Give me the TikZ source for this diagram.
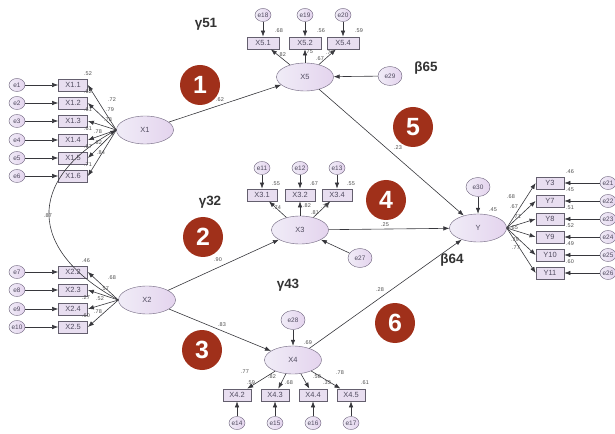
\documentclass[tikz,border=0pt]{standalone}
\usepackage{fontspec}
\setmainfont{Liberation Sans}
\usepackage{xcolor}
\usetikzlibrary{shapes.geometric, arrows.meta, positioning}

\definecolor{latleft}{RGB}{240,236,247}
\definecolor{latright}{RGB}{228,212,238}
\definecolor{latdraw}{RGB}{105,95,120}
\definecolor{boxfill}{RGB}{232,222,240}
\definecolor{boxdraw}{RGB}{100,95,110}
\definecolor{txtgray}{RGB}{80,75,95}
\definecolor{numred}{RGB}{160,48,26}
\definecolor{linegray}{RGB}{55,55,60}

\begin{document}
\begin{tikzpicture}[x=1bp, y=-1bp,
    lat/.style={ellipse, draw=latdraw, left color=latleft, right color=latright, minimum width=57bp, minimum height=28bp, inner sep=0, font=\fontsize{7.5}{8}\selectfont, text=txtgray},
    ind/.style={draw=boxdraw, fill=boxfill, minimum width=29bp, minimum height=12bp, inner sep=0, line width=0.8bp, font=\fontsize{7.5}{8}\selectfont, text=txtgray},
    err/.style={ellipse, draw=latdraw, left color=latleft, right color=latright, minimum width=16bp, minimum height=13bp, inner sep=0, font=\fontsize{6.5}{7}\selectfont, text=txtgray},
    dist/.style={err, minimum width=24bp, minimum height=19bp},
    num/.style={circle, fill=numred, minimum size=40bp, inner sep=0, text=white, font=\fontsize{25}{25}\selectfont\bfseries},
    greek/.style={font=\fontsize{13.5}{14}\selectfont\bfseries, text=black!80},
    coef/.style={font=\fontsize{5.5}{6}\selectfont, text=black!70, inner sep=0},
    arrow/.style={-{Latex[length=6bp,width=4.5bp]}, draw=linegray, line width=0.6bp}
]
    \useasboundingbox (0,0) rectangle (615,434);

    % latent variables
    \node[lat] at (145,130) (X1) {X1};
    \node[lat] at (147,300) (X2) {X2};
    \node[lat] at (305,77) (X5) {X5};
    \node[lat] at (300,230) (X3) {X3};
    \node[lat] at (293,360) (X4) {X4};
    \node[lat] at (478,228) (Y) {Y};

    % disturbances
    \node[dist] at (390,76) (e29) {e29};
    \node[dist] at (360,258) (e27) {e27};
    \node[dist] at (293,320) (e28) {e28};
    \node[dist] at (478,187) (e30) {e30};

    % hypothesis markers
    \node[num] at (200,85) (h1) {1};
    \node[num] at (203,237) (h2) {2};
    \node[num] at (202,350) (h3) {3};
    \node[num] at (386,200) (h4) {4};
    \node[num] at (413,127) (h5) {5};
    \node[num] at (395,323) (h6) {6};

    \node[greek] at (206,24) (g51) {γ51};
    \node[greek] at (426,68) (b65) {β65};
    \node[greek] at (210,202) (g32) {γ32};
    \node[greek] at (288,285) (g43) {γ43};
    \node[greek] at (452,260) (b64) {β64};

    % X1 indicators
    \foreach \i/\y/\rsq/\ld/\lx/\ly in {1/85/.52/.72/112/100, 2/103/.62/.79/110/110, 3/121/.61/.78/108/120, 4/140/.61/.78/98/132, 5/158/.67/.82/98/143, 6/176/.71/.84/101/153} {
        \node[ind] at (73,\y) (X1\i) {X1.\i};
        \node[err] at (17,\y) (e\i) {e\i};
        \draw[arrow] (e\i) -- (X1\i);
        \draw[arrow] (X1.west) -- (X1\i.east);
        \node[coef] at (88,\y-11) {\rsq};
        \node[coef] at (\lx,\ly) {\ld};
    }

    % X2 indicators
    \foreach \i/\e/\y/\rsq/\ld/\lx/\ly in {2/7/272/.46/.68/112/278, 3/8/290/{}/.57/105/289, 4/9/309/.27/.52/100/299, 5/10/327/.60/.78/98/312} {
        \node[ind] at (73,\y) (X2\i) {X2.\i};
        \node[err] at (17,\y) (e\e) {e\e};
        \draw[arrow] (e\e) -- (X2\i);
        \draw[arrow] (X2.west) -- (X2\i.east);
        \node[coef] at (86,\y-11) {\rsq};
        \node[coef] at (\lx,\ly) {\ld};
    }

    % X5 indicators
    \foreach \i/\e/\x/\rsq/\ld/\lx/\ly in {1/18/263/.68/.82/282/55, 2/19/305/.56/.75/309/52, 4/20/343/.59/.77/330/53} {
        \node[ind, minimum width=32bp] at (\x,43) (X5\i) {X5.\i};
        \node[err] at (\x,15) (e\e) {e\e};
        \draw[arrow] (e\e) -- (X5\i);
        \draw[arrow] (X5) -- (X5\i);
        \node[coef] at (\x+16,31) {\rsq};
        \node[coef] at (\lx,\ly) {\ld};
    }
    \node[coef] at (320,59) {.67};

    % X3 indicators
    \foreach \i/\e/\x/\rsq/\ld/\lx/\ly in {1/11/262/.55/.74/277/208, 2/12/300/.67/.82/307/206, 4/13/337/.55/.74/325/207} {
        \node[ind, minimum width=30bp] at (\x,195) (X3\i) {X3.\i};
        \node[err] at (\x,168) (e\e) {e\e};
        \draw[arrow] (e\e) -- (X3\i);
        \draw[arrow] (X3) -- (X3\i);
        \node[coef] at (\x+14,184) {\rsq};
        \node[coef] at (\lx,\ly) {\ld};
    }
    \node[coef] at (315,213) {.81};

    % X4 indicators
    \foreach \i/\e/\x/\rsq/\ld/\lx/\ly in {2/14/237/.59/.77/245/372, 3/15/275/.68/.82/272/377, 4/16/313/.33/.58/317/377, 5/17/351/.61/.78/340/373} {
        \node[ind, minimum width=28bp] at (\x,395) (X4\i) {X4.\i};
        \node[err] at (\x,423) (e\e) {e\e};
        \draw[arrow] (e\e) -- (X4\i);
        \draw[arrow] (X4) -- (X4\i);
        \node[coef] at (\x+14,383) {\rsq};
        \node[coef] at (\lx,\ly) {\ld};
    }
    \node[coef] at (308,343) {.69};

    % Y indicators
    \foreach \i/\e/\y/\rsq/\ld/\lx/\ly in {3/21/183/.46/.68/511/197, 7/22/201/.45/.67/514/207, 8/23/219/.51/.71/517/217, 9/24/237/.52/.65/514/228, 10/25/255/.49/.79/515/240, 11/26/273/.60/.77/516/248} {
        \node[ind, minimum width=28bp] at (550,\y) (Y\i) {Y\i};
        \node[err] at (608,\y) (e\e) {e\e};
        \draw[arrow] (e\e) -- (Y\i);
        \draw[arrow] (Y.east) -- (Y\i.west);
        \node[coef] at (570,\y-11) {\rsq};
        \node[coef] at (\lx,\ly) {\ld};
    }
    \node[coef] at (493,210) {.45};

    % structural paths
    \draw[arrow] (X1) -- (X5);
    \draw[arrow] (X5) -- (Y);
    \draw[arrow] (X3) -- (Y);
    \draw[arrow] (X2) -- (X3);
    \draw[arrow] (X2) -- (X4);
    \draw[arrow] (X4) -- (Y);
    \draw[arrow] (e29) -- (X5);
    \draw[arrow] (e27) -- (X3);
    \draw[arrow] (e28) -- (X4);
    \draw[arrow] (e30) -- (Y);
    \draw[arrow, {Latex[length=6bp,width=4.5bp]}-] (X1.west) .. controls (27,180) and (27,250) .. (X2.west);

    \node[coef] at (220,100) {.62};
    \node[coef] at (398,148) {.23};
    \node[coef] at (385,225) {.25};
    \node[coef] at (218,260) {.90};
    \node[coef] at (222,325) {.83};
    \node[coef] at (380,290) {.28};
    \node[coef] at (48,216) {.87};
\end{tikzpicture}
\end{document}
